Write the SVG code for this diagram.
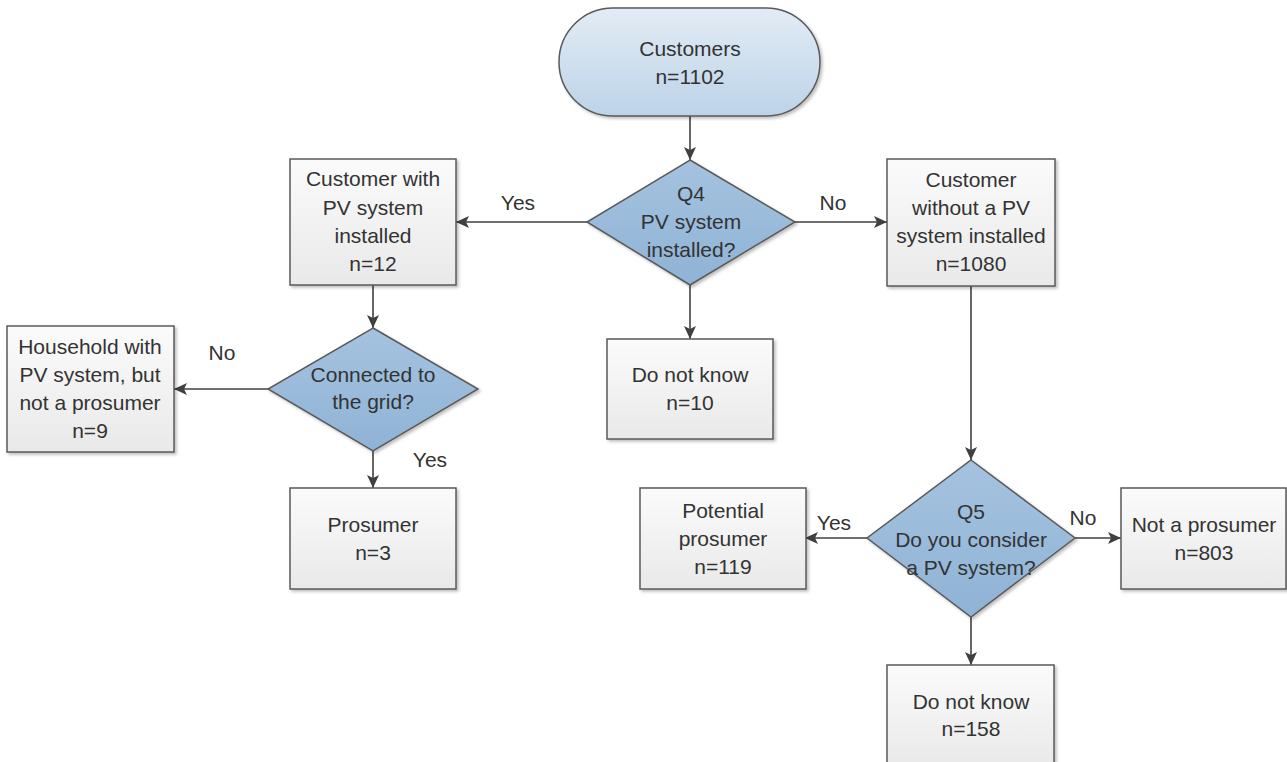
<svg xmlns="http://www.w3.org/2000/svg" width="1287" height="762" viewBox="0 0 1287 762">
<style>
text{font-family:"Liberation Sans",Arial,sans-serif;font-size:21px;fill:#333;text-anchor:middle}
.box{fill:url(#gBox);stroke:#5a5a5a;stroke-width:1.5;filter:url(#sh)}
.dia{fill:url(#gDia);stroke:#5a5a5a;stroke-width:1.5;filter:url(#sh)}
.term{fill:url(#gTerm);stroke:#5a5a5a;stroke-width:1.5;filter:url(#sh)}
.con{stroke:#404040;stroke-width:1.6;fill:none;marker-end:url(#ah)}
</style>
<defs>
<linearGradient id="gBox" x1="0" y1="0" x2="0" y2="1"><stop offset="0" stop-color="#fbfbfb"/><stop offset="1" stop-color="#e9e9e9"/></linearGradient>
<linearGradient id="gDia" x1="0" y1="0" x2="0" y2="1"><stop offset="0" stop-color="#a5c3df"/><stop offset="1" stop-color="#8fb3d6"/></linearGradient>
<linearGradient id="gTerm" x1="0" y1="0" x2="0" y2="1"><stop offset="0" stop-color="#e3ecf5"/><stop offset="1" stop-color="#bcd3e8"/></linearGradient>
<filter id="sh" x="-10%" y="-10%" width="130%" height="130%"><feDropShadow dx="2" dy="2" stdDeviation="1.5" flood-color="#000" flood-opacity="0.25"/></filter>
<marker id="ah" markerUnits="userSpaceOnUse" markerWidth="14" markerHeight="12" refX="13" refY="6" orient="auto"><path d="M0,0 L13,6 L0,12 L3,6 Z" fill="#404040"/></marker>
</defs>
<g id="connectors">
<line class="con" x1="690" y1="116" x2="690" y2="160"/>
<line class="con" x1="587" y1="222" x2="456" y2="222"/>
<line class="con" x1="795" y1="222" x2="887" y2="222"/>
<line class="con" x1="690" y1="285" x2="690" y2="339"/>
<line class="con" x1="373" y1="285" x2="373" y2="328"/>
<line class="con" x1="268" y1="389" x2="174" y2="389"/>
<line class="con" x1="373" y1="451" x2="373" y2="488"/>
<line class="con" x1="971" y1="286" x2="971" y2="460"/>
<line class="con" x1="867" y1="538" x2="805" y2="538"/>
<line class="con" x1="1075" y1="538" x2="1121" y2="538"/>
<line class="con" x1="971" y1="617" x2="971" y2="665"/>
<text x="518" y="210">Yes</text>
<text x="833" y="210">No</text>
<text x="222" y="360">No</text>
<text x="430" y="467">Yes</text>
<text x="834" y="530">Yes</text>
<text x="1083" y="525">No</text>
</g>
<g id="customers">
<rect class="term" x="559" y="8" width="261" height="108" rx="54"/>
<text x="690" y="56">Customers</text>
<text x="690" y="84">n=1102</text>
</g>
<g id="q4">
<polygon class="dia" points="690,160 795,222 690,285 587,222"/>
<text x="691" y="201">Q4</text>
<text x="691" y="229">PV system</text>
<text x="691" y="257">installed?</text>
</g>
<g id="with-pv">
<rect class="box" x="290" y="159" width="166" height="126"/>
<text x="373" y="186">Customer with</text>
<text x="373" y="215">PV system</text>
<text x="373" y="243">installed</text>
<text x="373" y="271">n=12</text>
</g>
<g id="without-pv">
<rect class="box" x="887" y="159" width="168" height="127"/>
<text x="971" y="187">Customer</text>
<text x="971" y="215">without a PV</text>
<text x="971" y="243">system installed</text>
<text x="971" y="271">n=1080</text>
</g>
<g id="dont-know-q4">
<rect class="box" x="607" y="339" width="166" height="100"/>
<text x="690" y="382">Do not know</text>
<text x="690" y="410">n=10</text>
</g>
<g id="grid">
<polygon class="dia" points="373,328 478,389 373,451 268,389"/>
<text x="373" y="382">Connected to</text>
<text x="373" y="409">the grid?</text>
</g>
<g id="household">
<rect class="box" x="7" y="326" width="167" height="126"/>
<text x="90" y="354">Household with</text>
<text x="90" y="382">PV system, but</text>
<text x="90" y="410">not a prosumer</text>
<text x="90" y="438">n=9</text>
</g>
<g id="prosumer">
<rect class="box" x="290" y="488" width="166" height="101"/>
<text x="373" y="532">Prosumer</text>
<text x="373" y="560">n=3</text>
</g>
<g id="q5">
<polygon class="dia" points="971,460 1075,538 971,617 867,538"/>
<text x="971" y="519">Q5</text>
<text x="971" y="547">Do you consider</text>
<text x="971" y="575">a PV system?</text>
</g>
<g id="potential">
<rect class="box" x="640" y="488" width="166" height="101"/>
<text x="723" y="518">Potential</text>
<text x="723" y="546">prosumer</text>
<text x="723" y="574">n=119</text>
</g>
<g id="not-prosumer">
<rect class="box" x="1121" y="488" width="165" height="101"/>
<text x="1204" y="532">Not a prosumer</text>
<text x="1204" y="560">n=803</text>
</g>
<g id="dont-know-q5">
<rect class="box" x="887" y="665" width="167" height="101"/>
<text x="971" y="709">Do not know</text>
<text x="971" y="736">n=158</text>
</g>
</svg>
